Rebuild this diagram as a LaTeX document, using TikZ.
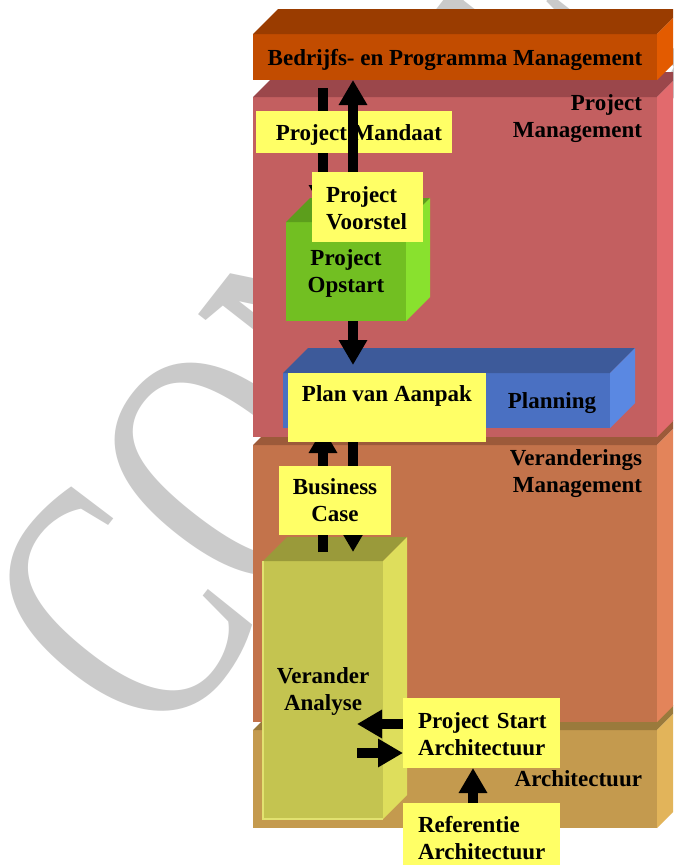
\documentclass[tikz,border=0pt]{standalone}
\usepackage{fontspec}
\setmainfont{Liberation Serif}
\usetikzlibrary{arrows.meta,calc}
\definecolor{orT}{HTML}{9A3C00}\definecolor{orF}{HTML}{C24C00}\definecolor{orS}{HTML}{E35B00}
\definecolor{pmT}{HTML}{9B474B}\definecolor{pmF}{HTML}{C35F60}\definecolor{pmS}{HTML}{E26A6D}
\definecolor{veT}{HTML}{9C5A3A}\definecolor{veF}{HTML}{C3734B}\definecolor{veS}{HTML}{E3845A}
\definecolor{arT}{HTML}{9A7A3C}\definecolor{arF}{HTML}{C49A4E}\definecolor{arS}{HTML}{E2B45A}
\definecolor{grT}{HTML}{5C9E1C}\definecolor{grF}{HTML}{72BF22}\definecolor{grS}{HTML}{89E12E}
\definecolor{blT}{HTML}{3D5A9A}\definecolor{blF}{HTML}{4A70C2}\definecolor{blS}{HTML}{5A88E2}
\definecolor{olT}{HTML}{9A9A3A}\definecolor{olF}{HTML}{C4C450}\definecolor{olS}{HTML}{DEDE5C}
\definecolor{olL}{HTML}{E2E270}
\definecolor{labY}{HTML}{FFFF66}
\definecolor{wm}{HTML}{CACACA}
\newcommand\blok[7]{%
  \node[fill=#7F, minimum width=#4pt, minimum height=#5pt, anchor=north west, inner sep=0pt, outer sep=0pt] (#1) at (#2,#3) {};
  \fill[#7T] (#1.north west) -- ++(#6,-#6) -- ($(#1.north east)+(#6,-#6)$) -- (#1.north east) -- cycle;
  \fill[#7S] (#1.north east) -- ++(#6,-#6) -- ($(#1.south east)+(#6,-#6)$) -- (#1.south east) -- cycle;
}
\tikzset{
  lab/.style={fill=labY, inner sep=0pt, outer sep=0pt, anchor=north west},
  txt/.style={font=\bfseries\fontsize{23}{27}\selectfont, inner sep=0pt, outer sep=0pt, text=black},
  arr/.style={draw=black, line width=10pt, -{Triangle[width=27pt,length=25pt]}},
}
\begin{document}
\begin{tikzpicture}[x=1pt,y=-1pt]
\useasboundingbox (0,0) rectangle (673,865);
\clip (0,0) rectangle (673,865);
\fill[white] (0,0) rectangle (673,865);
% watermark
\node[rotate=52, anchor=base west, inner sep=0pt, text=wm] (wmark) at (160,756)
  {\scalebox{1}[1.41]{\fontsize{262}{262}\selectfont CONCEPT}};
% layers
\blok{arch}{253}{730}{404}{98}{25}{ar}
\blok{verand}{253}{445}{404}{277}{25}{ve}
\blok{pm}{253}{97}{404}{340}{25}{pm}
\blok{orange}{253}{34}{404}{46}{25}{or}
\node[txt, anchor=base] (orangetxt) at (455,65) {Bedrijfs- en Programma Management};
% columns
\coordinate (cL) at (323,0);
\coordinate (cR) at (353,0);
\coordinate (cA) at (473,0);
\coordinate (rowA) at (0,724);
\coordinate (rowB) at (0,753);
% project opstart
\blok{opstart}{286}{222}{120}{99}{24}{gr}
\node[txt, text width=120pt, align=center, anchor=base] (opstarttxt) at (346,265) {Project\\Opstart};
\coordinate (optop) at (358,210);
\draw[arr] ($(orange.south -| cL)+(0,8)$) -- (cL |- optop);
% mandaat
\node[lab, minimum width=196pt, minimum height=42pt] (mandaat) at (256,111) {};
\node[txt, anchor=base] (mandaattxt) at (359,140) {Project Mandaat};
% voorstel
\node[lab, minimum width=111pt, minimum height=70pt] (voorstel) at (312,172) {};
\draw[arr] (voorstel.north -| cR) -- (orange.south -| cR);
\node[txt, text width=100pt, align=left, anchor=base west] (voorsteltxt) at (326,202) {Project\\Voorstel};
% planning
\blok{planning}{283}{373}{327}{55}{25}{bl}
\node[txt, anchor=base] (planningtxt) at (552,408) {Planning};
\draw[arr] (opstart.south -| cR) -- ($(planning.north -| cR)+(0,-8)$);
% verander analyse
\blok{verander}{263}{561}{120}{258}{24}{ol}
\draw[olL, line width=1.2pt] (verander.north west) -- (verander.south west) -- (verander.south east);
\node[txt, text width=120pt, align=center, anchor=base] (verandertxt) at (323,683) {Verander\\Analyse};
\draw[arr] ($(verander.north -| cL)+(0,-9)$) -- (planning.south -| cL);
\draw[arr] (planning.south -| cR) -- ($(verander.north -| cR)+(0,-9)$);
% plan van aanpak
\node[lab, minimum width=198pt, minimum height=69pt] (aanpak) at (288,373) {};
\node[txt, anchor=base] (aanpaktxt) at (387,401) {Plan van Aanpak};
% business case
\node[lab, minimum width=112pt, minimum height=69pt] (bcase) at (279,466) {};
\node[txt, text width=110pt, align=center, anchor=base] (bcasetxt) at (335,494) {Business\\Case};
% architectuur labels
\node[lab, minimum width=157pt, minimum height=70pt] (psa) at (403,698) {};
\node[txt, text width=140pt, align=left, anchor=base west] (psatxt) at (418,728) {Project Start\\Architectuur};
\node[lab, minimum width=157pt, minimum height=75pt] (ref) at (403,803) {};
\node[txt, text width=140pt, align=left, anchor=base west] (reftxt) at (418,832) {Referentie\\Architectuur};
\draw[arr] (psa.west |- rowA) -- ($(verander.east |- rowA)+(-26,0)$);
\draw[arr] ($(verander.east |- rowB)+(-26,0)$) -- (psa.west |- rowB);
\draw[arr] (ref.north -| cA) -- (psa.south -| cA);
% layer titles
\node[txt, text width=200pt, align=right, anchor=base east] (pmtxt) at (642,110) {Project\hspace*{7pt}\\Management};
\node[txt, text width=200pt, align=right, anchor=base east] (vetxt) at (642,465) {Veranderings\hspace*{6pt}\\Management};
\node[txt, anchor=base east] (artxt) at (642,786) {Architectuur};
\end{tikzpicture}
\end{document}
